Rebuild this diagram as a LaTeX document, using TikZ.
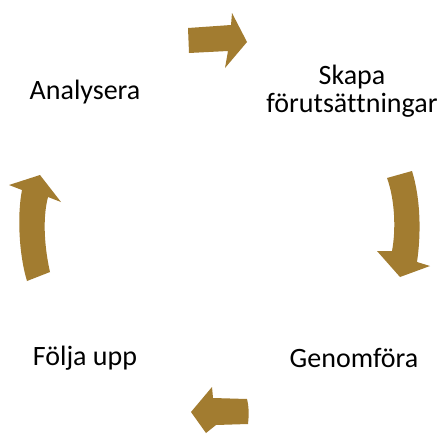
\documentclass[tikz,border=0pt]{standalone}
\usepackage{fontspec}
\setmainfont[Ligatures={NoCommon,NoRequired,NoContextual}]{Carlito}
\definecolor{gold}{HTML}{A27C30}
\begin{document}
\begin{tikzpicture}[x=1pt,y=-1pt,
  lbl/.style={font=\fontsize{28}{28}\selectfont, align=center, text=black, inner sep=0pt},
  arr/.style={fill=gold, draw=none}]
\useasboundingbox[fill=white] (0,0) rectangle (442,434);
% labels
\node[lbl] (ana) at (85,92) {Analysera};
\node[lbl] (ska) at (352,91) {Skapa\\förutsät\kern0pt tningar};
\node[lbl] (gen) at (354,358) {Genomföra};
\node[lbl] (fol) at (85,358) {Följa upp};
% top arrow
\fill[arr] (188,28) -- (231,25) -- (232,13) -- (247,42) -- (225,68) -- (228,51) -- (189,53) -- cycle;
% right arrow
\fill[arr] (387,178) -- (412,171) .. controls (421,200) and (421,235) .. (417,262)
  -- (430,266) -- (400,277) -- (377,251) -- (392,251)
  .. controls (396,230) and (395,200) .. cycle;
% bottom arrow
\fill[arr] (191,412) -- (212,387) -- (213,398) -- (247,399) .. controls (249,407) and (249,415) .. (248,424)
  -- (216,425) -- (206,433) -- cycle;
% left arrow
\fill[arr] (40,175) -- (61,202) -- (48,197) .. controls (42,220) and (45,250) .. (50,272)
  -- (27,281) .. controls (19,255) and (17,215) .. (22,190) -- (9,185) -- cycle;
\end{tikzpicture}
\end{document}
